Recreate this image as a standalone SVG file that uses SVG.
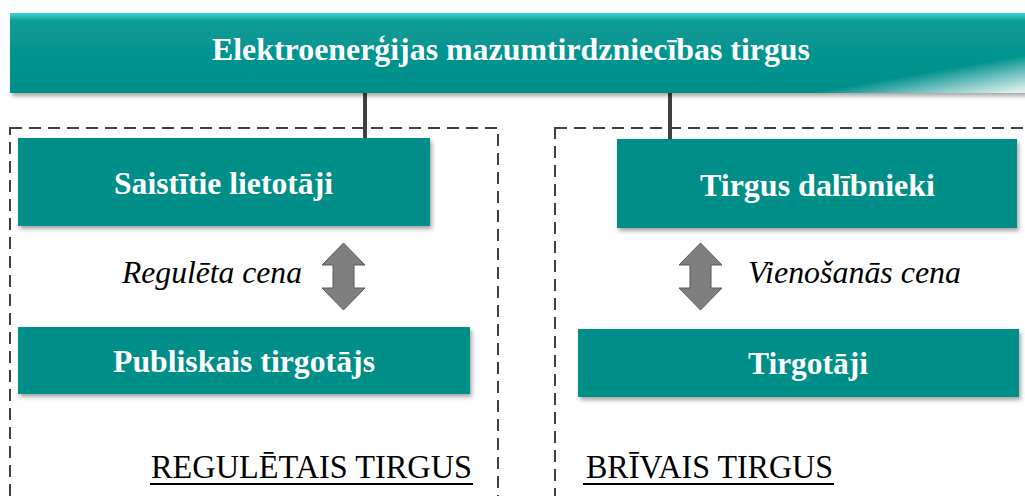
<svg xmlns="http://www.w3.org/2000/svg" width="1025" height="496" viewBox="0 0 1025 496">
<style>
.box{fill:#008E89;}
.lbl{font-family:"Liberation Serif","Times New Roman",serif;font-weight:bold;fill:#ffffff;text-anchor:middle;font-size:32px;}
.ital{font-family:"Liberation Serif","Times New Roman",serif;font-style:italic;fill:#000;font-size:31.5px;}
.reg{font-family:"Liberation Serif","Times New Roman",serif;fill:#000;font-size:33px;}
.ul{stroke:#000;stroke-width:2;}
.dash{fill:none;stroke:#404040;stroke-width:2;stroke-dasharray:12,7;}
.conn{stroke:#404040;stroke-width:4;}
.arr{fill:#7f7f7f;stroke:#595959;stroke-width:1;}
</style>
<defs>
<filter id="sh" x="-5%" y="-10%" width="110%" height="130%">
<feDropShadow dx="2" dy="3" stdDeviation="2" flood-color="#000" flood-opacity="0.35"/>
</filter>
<linearGradient id="topg" x1="0" y1="0" x2="0" y2="1">
<stop offset="0" stop-color="#3fd6d0"/>
<stop offset="0.1" stop-color="#0a9a95"/>
<stop offset="1" stop-color="#008E89"/>
</linearGradient>
<linearGradient id="fade" gradientUnits="userSpaceOnUse" x1="860" y1="84" x2="866" y2="118">
<stop offset="0" stop-color="#ffffff" stop-opacity="0"/>
<stop offset="0.5" stop-color="#ffffff" stop-opacity="0.45"/>
<stop offset="1" stop-color="#ffffff" stop-opacity="0.85"/>
</linearGradient>
</defs>

<g id="regions">
<rect class="dash" x="10" y="128" width="488" height="380"/>
<rect class="dash" x="555" y="128" width="490" height="380"/>
</g>

<g id="connectors">
<line class="conn" x1="365" y1="92" x2="365" y2="139"/>
<line class="conn" x1="670" y1="92" x2="670" y2="139"/>
<polygon class="arr" points="343.5,243 365,265 354,265 354,288 365,288 343.5,310 322,288 333,288 333,265 322,265"/>
<polygon class="arr" points="700.5,243 722,265 711,265 711,288 722,288 700.5,310 679,288 690,288 690,265 679,265"/>
</g>

<g id="top">
<rect x="10" y="13" width="1030" height="80" fill="url(#topg)" filter="url(#sh)"/>
<rect x="10" y="13" width="1030" height="80" fill="url(#fade)"/>
<text class="lbl" x="511" y="60" textLength="598" lengthAdjust="spacingAndGlyphs">Elektroenerģijas mazumtirdzniecības tirgus</text>
</g>

<g id="saistitie">
<rect class="box" x="18" y="138" width="412" height="88" filter="url(#sh)"/>
<text class="lbl" x="223.5" y="194" textLength="219" lengthAdjust="spacingAndGlyphs">Saistītie lietotāji</text>
</g>

<g id="tirgus-dalibnieki">
<rect class="box" x="617" y="139" width="400" height="89" filter="url(#sh)"/>
<text class="lbl" x="817.5" y="196" textLength="235" lengthAdjust="spacingAndGlyphs">Tirgus dalībnieki</text>
</g>

<g id="publiskais">
<rect class="box" x="18" y="327" width="452" height="67" filter="url(#sh)"/>
<text class="lbl" x="244" y="372" textLength="262" lengthAdjust="spacingAndGlyphs">Publiskais tirgotājs</text>
</g>

<g id="tirgotaji">
<rect class="box" x="578" y="329" width="441" height="68" filter="url(#sh)"/>
<text class="lbl" x="808" y="374" textLength="120" lengthAdjust="spacingAndGlyphs">Tirgotāji</text>
</g>

<g id="labels">
<text class="ital" x="122" y="283" textLength="180" lengthAdjust="spacingAndGlyphs">Regulēta cena</text>
<text class="ital" x="748" y="283" textLength="213" lengthAdjust="spacingAndGlyphs">Vienošanās cena</text>
<text class="reg" x="151" y="478" textLength="321" lengthAdjust="spacingAndGlyphs">REGULĒTAIS TIRGUS</text>
<line class="ul" x1="150" y1="484" x2="473" y2="484"/>
<text class="reg" x="586" y="478" textLength="247" lengthAdjust="spacingAndGlyphs">BRĪVAIS TIRGUS</text>
<line class="ul" x1="583" y1="484" x2="834" y2="484"/>
</g>
</svg>
